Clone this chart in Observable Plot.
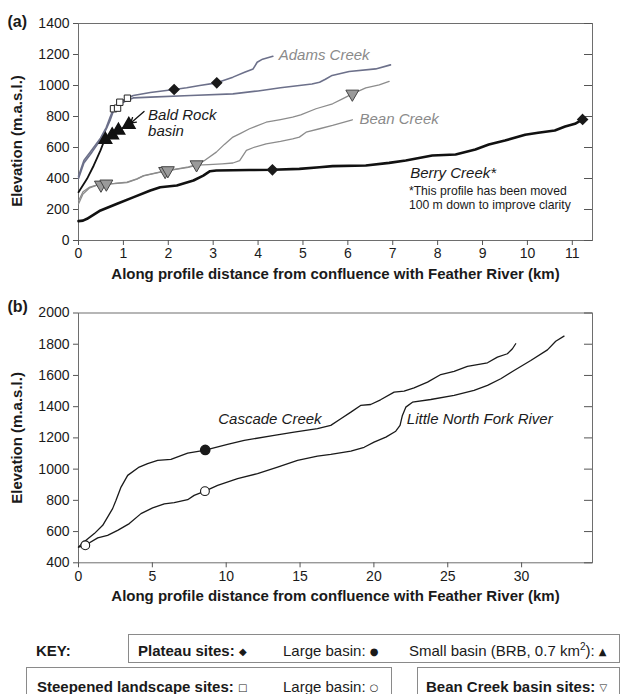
<!DOCTYPE html>
<html>
<head>
<meta charset="utf-8">
<script src="https://cdn.jsdelivr.net/npm/d3@7"></script>
<script src="https://cdn.jsdelivr.net/npm/@observablehq/plot@0.6"></script>
<style>
  html, body { margin: 0; padding: 0; background: #fff; }
  #wrap { position: relative; width: 622px; height: 694px; overflow: hidden; font-family: 'Liberation Sans', Arial, sans-serif; color: #1a1a1a; }
  #wrap svg { position: absolute; left: 0; }
  .box { position: absolute; border: 1px solid #8a8a8a; box-sizing: border-box; }
  .kt { position: absolute; font-size: 15px; white-space: nowrap; line-height: 1; transform: translateY(-50%); }
  .b { font-weight: bold; }
  .sym { font-size: 10px; font-family: 'DejaVu Sans', sans-serif; vertical-align: 1px; }
</style>
</head>
<body>
<div id="wrap"></div>
<script>
// ---------- Panel (a) data: [distance km, elevation m] ----------
const adamsUpper = [[0,415],[0.12,516],[0.3,585],[0.49,660],[0.62,730],[0.71,800],[0.78,850],[0.87,868],[1.0,905],[1.22,935],[1.6,955],[2.13,974],[2.41,985],[2.7,1000],[3.08,1017],[3.44,1054],[3.7,1085],[3.89,1107],[3.98,1150],[4.1,1170],[4.33,1189]];
const adamsLower = [[0,400],[0.12,500],[0.3,570],[0.49,650],[0.62,720],[0.71,780],[0.79,845],[0.92,880],[1.09,905],[1.22,920],[1.6,925],[2.5,935],[3.44,946],[4.0,965],[4.5,985],[4.92,1000],[5.2,1010],[5.37,1021],[5.5,1040],[5.65,1065],[6.03,1090],[6.62,1107],[6.95,1133]];
const baldRock = [[0,312],[0.19,398],[0.34,484],[0.49,581],[0.56,634],[0.6,650],[0.75,680],[0.89,710],[1.12,748]];
const beanUpper = [[0,255],[0.1,315],[0.25,345],[0.4,358],[0.55,363],[0.8,368],[1.08,376],[1.3,398],[1.45,419],[1.7,435],[1.93,449],[2.2,462],[2.45,475],[2.63,490],[2.8,515],[3.07,570],[3.25,620],[3.44,667],[3.6,690],[3.81,721],[4.18,763],[4.5,780],[4.77,796],[4.95,810],[5.29,850],[5.66,882],[5.88,914],[6.1,946],[6.4,985],[6.7,1004],[6.92,1026]];
const beanLower = [[0,235],[0.1,300],[0.25,340],[0.4,356],[0.55,362],[0.8,367],[1.08,374],[1.3,396],[1.45,417],[1.7,433],[1.93,447],[2.2,460],[2.45,472],[2.63,486],[2.9,490],[3.2,495],[3.44,500],[3.59,516],[3.74,581],[3.9,600],[4.18,624],[4.5,640],[4.77,656],[4.92,667],[5.07,699],[5.37,721],[5.66,742],[6.1,779]];
const berry = [[0,125],[0.1,128],[0.19,140],[0.49,194],[0.86,237],[1.23,280],[1.6,323],[1.82,344],[2.19,355],[2.56,387],[2.78,419],[2.93,447],[3.07,452],[3.8,455],[4.32,456],[4.92,462],[5.37,473],[5.66,480],[6.4,484],[6.92,501],[7.29,516],[7.88,548],[8.4,555],[8.84,587],[9.14,619],[9.5,645],[9.95,682],[10.24,695],[10.61,710],[10.84,735],[11.06,753],[11.23,781]];

const plateauSitesA = [[2.13,974],[3.08,1017],[4.32,456],[11.23,781]];
const steepenedSitesA = [[0.78,850],[0.87,854],[0.92,892],[1.09,918]];
const smallBasinSitesA = [[0.6,650],[0.75,680],[0.89,710],[1.12,748]];
const beanCreekSites = [[0.5,359],[0.62,366],[1.93,447],[1.99,452],[2.63,490],[6.1,946]];

const xDomainA = [0, 11.45];
const yDomainA = [0, 1400];
const xTicksA = [0,1,2,3,4,5,6,7,8,9,10,11];
const yTicksA = [0,200,400,600,800,1000,1200,1400];

const labelsA = [
  {text: "Adams Creek", km: 4.46, elev: 1194, grey: true},
  {text: "Bald Rock\nbasin", km: 1.55, elev: 758, grey: false},
  {text: "Bean Creek", km: 6.26, elev: 781, grey: true},
  {text: "Berry Creek*", km: 7.39, elev: 434, grey: false}
];
const noteA = [{text: "*This profile has been moved\n100 m down to improve clarity", km: 7.36, elev: 275}];
const baldRockArrow = [{x1: 1.46, y1: 832, x2: 1.16, y2: 757}];

// ---------- Panel (b) data ----------
const cascade = [[0,501],[0.51,544],[1.07,587],[1.64,640],[1.97,693],[2.31,747],[2.54,800],[2.88,885],[3.33,960],[4.11,1013],[4.68,1035],[5.36,1056],[6.26,1062],[7.39,1103],[8.51,1120],[10.09,1158],[11.22,1184],[13.25,1216],[14.6,1237],[16.18,1259],[17.08,1280],[17.76,1323],[18.44,1365],[19.1,1408],[19.78,1414],[20.45,1444],[21.37,1493],[22.04,1500],[22.72,1521],[23.63,1557],[24.53,1606],[25.43,1626],[26.33,1658],[27.69,1681],[28.36,1717],[29.04,1739],[29.38,1771],[29.6,1803]];
const littleNorthFork = [[0,501],[0.46,512],[1.3,560],[1.97,576],[2.65,608],[3.44,651],[4.23,715],[5.02,752],[5.81,778],[6.48,785],[7.39,804],[7.83,832],[8.56,859],[9.42,896],[10.77,939],[12.12,971],[13.48,1013],[14.83,1056],[16.18,1083],[17.08,1094],[18.44,1115],[19.34,1140],[20.01,1173],[20.81,1205],[21.48,1243],[21.77,1280],[21.93,1344],[22.16,1397],[22.61,1429],[23.85,1446],[25.43,1472],[26.78,1504],[27.69,1536],[28.59,1579],[29.49,1632],[30.62,1696],[31.75,1764],[32.31,1819],[32.87,1852]];
const largeBasinSitesB = [[8.58,1123]];
const steepenedLargeB = [[0.46,512],[8.56,859]];

const xDomainB = [0, 34.8];
const yDomainB = [400, 2000];
const xTicksB = [0,5,10,15,20,25,30];
const yTicksB = [400,600,800,1000,1200,1400,1600,1800,2000];
const labelsB = [
  {text: "Cascade Creek", km: 9.46, elev: 1323},
  {text: "Little North Fork River", km: 22.23, elev: 1323}
];

const xTitle = "Along profile distance from confluence with Feather River (km)";
const yTitle = "Elevation (m.a.s.l.)";

// ---------- helpers ----------
const FONT = "'Liberation Sans', Arial, sans-serif";
const X = d => d[0], Y = d => d[1];
const fmt = d => String(d);
const commonAxes = (xt, yt, xd) => [
  Plot.frame({stroke: "#6e6e6e", strokeWidth: 1}),
  Plot.axisX({ticks: xt, tickSize: 5, tickPadding: 3, tickFormat: fmt, label: null, stroke: "#555"}),
  Plot.axisY({ticks: yt, tickSize: 5, tickPadding: 4, tickFormat: fmt, label: null, stroke: "#555"}),
  // inward tick marks on the right-hand frame
  Plot.ruleY(yt, {y: d => d, x1: () => xd[1], x2: () => xd[1], insetLeft: -8, stroke: "#555", strokeWidth: 1})
];

const wrap = document.getElementById("wrap");

// ---------- Panel (a) ----------
const plotA = Plot.plot({
  width: 622, height: 290,
  marginLeft: 78, marginRight: 30, marginTop: 23, marginBottom: 50,
  style: {fontFamily: FONT, fontSize: "14px", color: "#1a1a1a", background: "white"},
  x: {domain: xDomainA},
  y: {domain: yDomainA},
  marks: [
    ...commonAxes(xTicksA, yTicksA, xDomainA),
    Plot.line(beanLower, {x: X, y: Y, stroke: "#8c8c8c", strokeWidth: 1.3}),
    Plot.line(beanUpper, {x: X, y: Y, stroke: "#8c8c8c", strokeWidth: 1.3}),
    Plot.line(adamsLower, {x: X, y: Y, stroke: "#6c708a", strokeWidth: 1.6}),
    Plot.line(adamsUpper, {x: X, y: Y, stroke: "#6c708a", strokeWidth: 1.6}),
    Plot.line(baldRock, {x: X, y: Y, stroke: "#111", strokeWidth: 1.8}),
    Plot.line(berry, {x: X, y: Y, stroke: "#111", strokeWidth: 2.6}),
    Plot.arrow(baldRockArrow, {x1: "x1", y1: "y1", x2: "x2", y2: "y2", stroke: "#111", strokeWidth: 1.3, headLength: 9, bend: 0}),
    Plot.dot(plateauSitesA, {x: X, y: Y, symbol: "diamond2", r: 4.3, fill: "#1a1a1a", stroke: "#1a1a1a"}),
    Plot.dot(steepenedSitesA, {x: X, y: Y, symbol: "square", r: 3.6, fill: "white", stroke: "#222", strokeWidth: 1}),
    Plot.dot(smallBasinSitesA, {x: X, y: Y, symbol: "triangle", r: 4.6, fill: "#111", stroke: "#111"}),
    Plot.dot(beanCreekSites, {x: X, y: Y, symbol: "triangle", rotate: 180, r: 4.8, fill: "#9a9a9a", stroke: "#444", strokeWidth: 1}),
    Plot.text(labelsA, {x: "km", y: "elev", text: "text", textAnchor: "start", lineAnchor: "middle", lineHeight: 1.05, fontStyle: "italic", fontSize: 15, fill: d => d.grey ? "#8a8a8a" : "#1a1a1a"}),
    Plot.text(noteA, {x: "km", y: "elev", text: "text", textAnchor: "start", lineAnchor: "middle", lineHeight: 1.1, fontSize: 12.2, fill: "#1a1a1a"}),
    Plot.text([xTitle], {frameAnchor: "bottom", dy: 38, textAnchor: "middle", fontWeight: "bold", fontSize: 15}),
    Plot.text([yTitle], {frameAnchor: "left", rotate: -90, dx: -61, dy: 9, textAnchor: "middle", fontWeight: "bold", fontSize: 15}),
    Plot.text(["(a)"], {frameAnchor: "top-left", dx: -71, dy: -8, textAnchor: "start", fontWeight: "bold", fontSize: 16})
  ]
});
plotA.style.top = "0px";
wrap.appendChild(plotA);

// ---------- Panel (b) ----------
const plotB = Plot.plot({
  width: 622, height: 325,
  marginLeft: 78, marginRight: 30, marginTop: 22.5, marginBottom: 52.7,
  style: {fontFamily: FONT, fontSize: "14px", color: "#1a1a1a", background: "white"},
  x: {domain: xDomainB},
  y: {domain: yDomainB},
  marks: [
    ...commonAxes(xTicksB, yTicksB, xDomainB),
    Plot.line(cascade, {x: X, y: Y, stroke: "#1a1a1a", strokeWidth: 1.3}),
    Plot.line(littleNorthFork, {x: X, y: Y, stroke: "#1a1a1a", strokeWidth: 1.3}),
    Plot.dot(largeBasinSitesB, {x: X, y: Y, r: 4.6, fill: "#1a1a1a", stroke: "#1a1a1a"}),
    Plot.dot(steepenedLargeB, {x: X, y: Y, r: 4.4, fill: "white", stroke: "#1a1a1a", strokeWidth: 1.1}),
    Plot.text(labelsB, {x: "km", y: "elev", text: "text", textAnchor: "start", fontStyle: "italic", fontSize: 15, fill: "#1a1a1a"}),
    Plot.text([xTitle], {frameAnchor: "bottom", dy: 38, textAnchor: "middle", fontWeight: "bold", fontSize: 15}),
    Plot.text([yTitle], {frameAnchor: "left", rotate: -90, dx: -61, dy: 0, textAnchor: "middle", fontWeight: "bold", fontSize: 15}),
    Plot.text(["(b)"], {frameAnchor: "top-left", dx: -71, dy: -12, textAnchor: "start", fontWeight: "bold", fontSize: 16})
  ]
});
plotB.style.top = "290px";
wrap.appendChild(plotB);

// ---------- Key ----------
const keyBoxes = [
  {left: 128, top: 634, width: 492, height: 29},
  {left: 26, top: 667, width: 366, height: 40},
  {left: 417, top: 667, width: 203, height: 40}
];
const keyItems = [
  {left: 36, y: 650, html: '<span class="b">KEY:</span>'},
  {left: 138, y: 650, html: '<span class="b">Plateau sites: </span><span class="sym">&#9670;</span>'},
  {left: 283, y: 650, html: 'Large basin: <span class="sym">&#9679;</span>'},
  {left: 409, y: 650, html: 'Small basin (BRB, 0.7 km<sup style="font-size:10px;line-height:0">2</sup>): <span class="sym">&#9650;</span>'},
  {left: 37, y: 686, html: '<span class="b">Steepened landscape sites: </span><span class="sym">&#9633;</span>'},
  {left: 283, y: 686, html: 'Large basin: <span class="sym">&#9675;</span>'},
  {left: 426, y: 686, html: '<span class="b">Bean Creek basin sites: </span><span class="sym">&#9661;</span>'}
];
for (const b of keyBoxes) {
  const d = document.createElement("div");
  d.className = "box";
  Object.assign(d.style, {left: b.left + "px", top: b.top + "px", width: b.width + "px", height: b.height + "px"});
  wrap.appendChild(d);
}
for (const k of keyItems) {
  const d = document.createElement("div");
  d.className = "kt";
  d.style.left = k.left + "px";
  d.style.top = k.y + "px";
  d.innerHTML = k.html;
  wrap.appendChild(d);
}
</script>
</body>
</html>
